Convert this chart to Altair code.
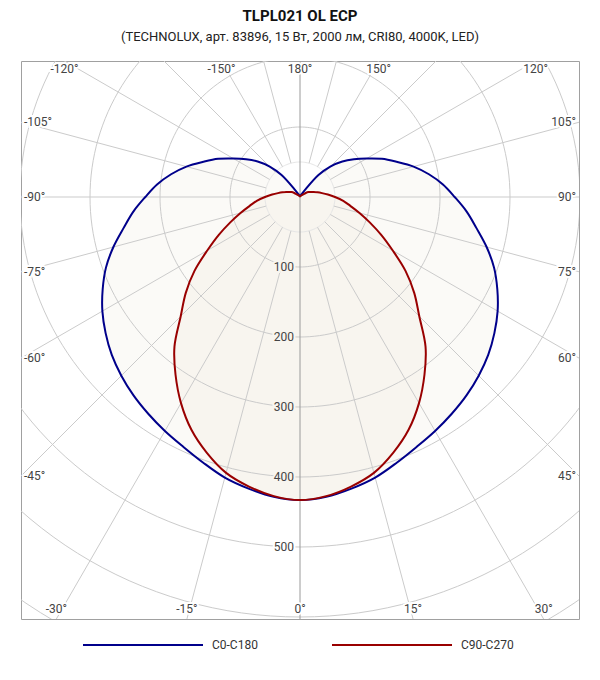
"""Polar luminous-intensity diagram (C0-C180 / C90-C270) drawn with Altair layers."""
import math

import altair as alt
import pandas as pd

TITLE = "TLPL021 OL ECP"
SUBTITLE = "(TECHNOLUX, арт. 83896, 15 Вт, 2000 лм, CRI80, 4000K, LED)"

# intensity, cd, at gamma 0..180 deg in 5 deg steps (curves are symmetric)
GAMMA = list(range(0, 181, 5))
C0_C180 = [433, 430, 423, 415, 404, 394, 386, 378, 370, 361, 351, 339, 326, 311, 295, 276,
           256, 239, 221, 205, 187, 168, 147, 129, 110, 94, 79, 62, 41, 12, 5, 3, 2, 1, 1, 0, 0]
C90_C270 = [433, 429, 420, 408, 389, 367, 340, 310, 279, 241, 213, 184, 153, 128, 106, 88,
            73, 62, 50, 40, 32, 26, 21, 17, 14, 10, 6, 4, 3, 2, 2, 1, 1, 1, 0, 0, 0]
SERIES = ["C0-C180", "C90-C270"]
COLORS = ["#00008b", "#990000"]
FILLS = ["#fbfaf7", "#f8f5ef"]

RINGS = [100, 200, 300, 400, 500, 600, 700]
INNER_RING = 50
RING_LABELS = [100, 200, 300, 400, 500]
SPOKES = [a for a in range(-165, 180, 15) if a != 0]
LABELS_TOP = [-150, -120, 120, 150, 180]
LABELS_LEFT = [-105, -90, -75, -60, -45]
LABELS_RIGHT = [45, 60, 75, 90, 105]
LABELS_BOTTOM = [-30, -15, 0, 15, 30]

W = H = 558
PX_PER_CD = 0.70
CX, CY = 279, 136          # pole position inside the plot, px
X_DOM = [-CX / PX_PER_CD, (W - CX) / PX_PER_CD]
Y_DOM = [-CY / PX_PER_CD, (H - CY) / PX_PER_CD]
GRID = "#cbcbcb"
FONT = "Roboto"


def polar(r, g):
    a = math.radians(g)
    return r * math.sin(a), r * math.cos(a)


def edge_point(g):
    s, c = math.sin(math.radians(g)), math.cos(math.radians(g))
    ts = []
    if abs(s) > 1e-9:
        ts.append((X_DOM[1] if s > 0 else X_DOM[0]) / s)
    if abs(c) > 1e-9:
        ts.append((Y_DOM[1] if c > 0 else Y_DOM[0]) / c)
    t = min(ts)
    return t * s, t * c


X = alt.X("x:Q", scale=alt.Scale(domain=X_DOM, nice=False, zero=False), axis=None)
Y = alt.Y("y:Q", scale=alt.Scale(domain=Y_DOM, nice=False, zero=False, reverse=True), axis=None)

# curves
rows = []
for name, vals in zip(SERIES, (C0_C180, C90_C270)):
    for g in range(-180, 181, 5):
        x, y = polar(vals[abs(g) // 5], g)
        rows.append({"series": name, "g": g, "x": x, "y": y})
curves = pd.DataFrame(rows)

fills = [
    alt.Chart(curves[curves.series == name])
    .mark_line(fill=f, strokeOpacity=0, clip=True, interpolate="catmull-rom")
    .encode(x=X, y=Y, order="g:Q")
    for name, f in zip(SERIES, FILLS)
]

lines = alt.Chart(curves).mark_line(strokeWidth=2, clip=True, interpolate="catmull-rom").encode(
    x=X, y=Y, order="g:Q",
    color=alt.Color("series:N", scale=alt.Scale(domain=SERIES, range=COLORS),
                    legend=alt.Legend(title=None, orient="none", direction="horizontal",
                                      legendX=61, legendY=523, symbolType="stroke",
                                      symbolSize=14400, symbolStrokeWidth=2,
                                      labelFont=FONT, labelFontSize=12, labelColor="#333",
                                      labelOffset=8, columnPadding=70)),
)

# rings and spokes
ring_rows = []
for r in RINGS + [INNER_RING]:
    for a in range(0, 361, 2):
        x, y = polar(r, a)
        ring_rows.append({"r": r, "a": a, "x": x, "y": y})
rings_df = pd.DataFrame(ring_rows)
rings = alt.Chart(rings_df[rings_df.r != INNER_RING]).mark_line(
    stroke=GRID, strokeWidth=1, clip=True).encode(x=X, y=Y, detail="r:N", order="a:Q")
inner = alt.Chart(rings_df[rings_df.r == INNER_RING]).mark_line(
    stroke="#e6e6e6", strokeWidth=1, clip=True).encode(x=X, y=Y, order="a:Q")

spoke_rows = []
for a in SPOKES:
    x, y = polar(INNER_RING, a)
    x2, y2 = polar(1200, a)
    spoke_rows.append({"x": x, "y": y, "x2": x2, "y2": y2})
spokes = alt.Chart(pd.DataFrame(spoke_rows)).mark_rule(stroke=GRID, strokeWidth=1, clip=True).encode(
    x=X, y=Y, x2="x2:Q", y2="y2:Q")

axis_line = alt.Chart(pd.DataFrame({"x": [0], "y": [Y_DOM[0]], "y2": [Y_DOM[1]]})).mark_rule(
    stroke="#9a9a9a", strokeWidth=1).encode(x=X, y=Y, y2="y2:Q")


def labels(df, halo="white", **kw):
    base = alt.Chart(df).encode(x=X, y=Y, text="t:N")
    style = dict(font=FONT, fontSize=12, **kw)
    h = base.mark_text(stroke=halo, strokeWidth=4, fill=halo, **style)
    if "halo" in df:
        h = base.mark_text(strokeWidth=4, **style).encode(
            stroke=alt.Stroke("halo:N", scale=None), fill=alt.Fill("halo:N", scale=None))
    return h + base.mark_text(fill="#444", **style)


def angle_df(angles):
    pts = [edge_point(a) for a in angles]
    return pd.DataFrame({"x": [p[0] for p in pts], "y": [p[1] for p in pts],
                         "t": [f"{a}°" for a in angles]})


angle_labels = (
    labels(angle_df(LABELS_TOP), align="center", baseline="top", dy=3)
    + labels(angle_df(LABELS_BOTTOM), align="center", baseline="bottom", dy=-3)
    + labels(angle_df(LABELS_LEFT), align="left", baseline="middle", dx=3)
    + labels(angle_df(LABELS_RIGHT), align="right", baseline="middle", dx=-3)
)

ring_df = pd.DataFrame({
    "x": [0] * len(RING_LABELS), "y": RING_LABELS, "t": [str(v) for v in RING_LABELS],
    "halo": [FILLS[1] if v < C90_C270[0] else "white" for v in RING_LABELS],
})
ring_labels = labels(ring_df, align="right", baseline="middle", dx=-6)

chart = (
    alt.layer(*fills, rings, inner, spokes, axis_line, ring_labels, angle_labels, lines)
    .properties(
        width=W, height=H,
        title=alt.Title(TITLE, subtitle=SUBTITLE, anchor="middle", font=FONT, fontSize=15,
                        fontWeight="bold", color="#111", subtitleFont=FONT, subtitleFontSize=13,
                        subtitleColor="#222", subtitlePadding=7, offset=17),
        autosize=alt.AutoSizeParams(type="none"),
        padding={"left": 13, "top": 53, "right": 13, "bottom": 50},
        background="white",
    )
    .configure_view(stroke="#a0a0a0", strokeWidth=1, fill="white")
)

chart.save("out.html", embed_options={"renderer": "svg", "actions": False})
